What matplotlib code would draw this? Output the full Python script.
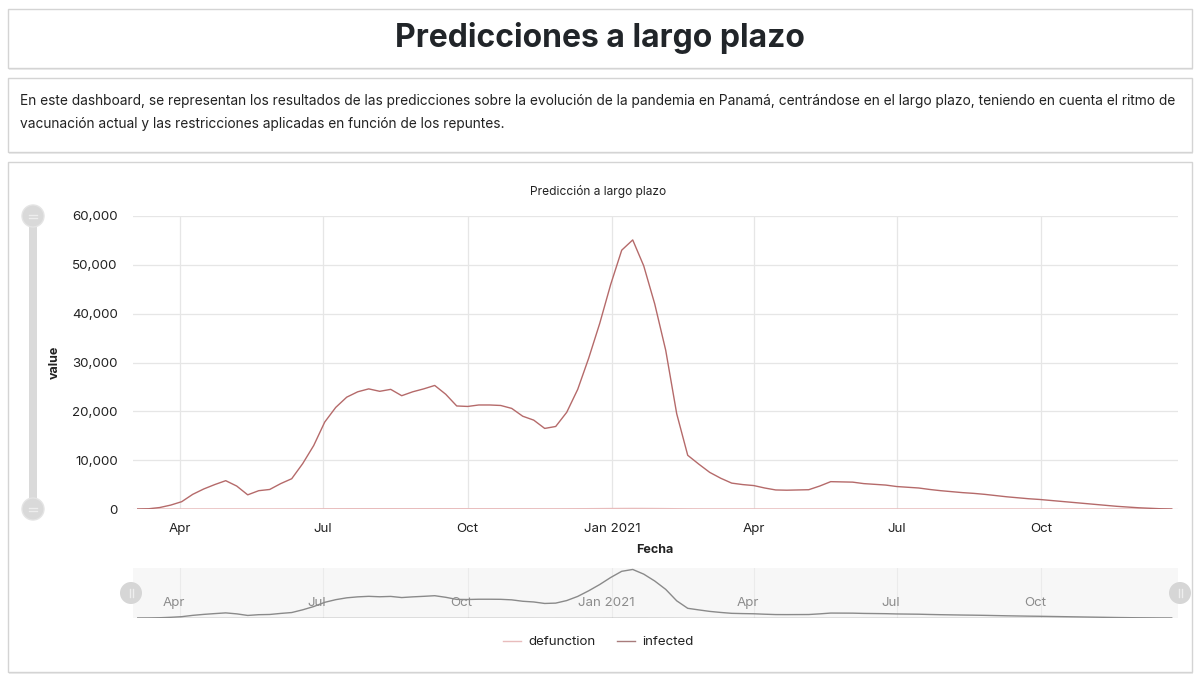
import matplotlib
matplotlib.use("Agg")
import matplotlib.pyplot as plt
from matplotlib.patches import Rectangle, Circle
from matplotlib.ticker import FuncFormatter
import pandas as pd

plt.rcParams['font.family'] = ['Inter', 'DejaVu Sans']

# ---------------- data ----------------
start_date = "2020-03-05"
n_weeks = 95
dates = pd.date_range(start_date, periods=n_weeks, freq="7D")

infected = [
    0, 50, 300, 800, 1500, 3000, 4100, 5000, 5800, 4700,
    2900, 3750, 4000, 5200, 6200, 9300, 13000, 17800, 20800, 22900,
    24000, 24600, 24100, 24500, 23200, 24000, 24600, 25300, 23500, 21100,
    21000, 21300, 21300, 21200, 20600, 19000, 18200, 16500, 16900, 19800,
    24500, 30900, 38000, 46000, 53000, 55100, 49800, 42000, 32500, 19500,
    11000, 9200, 7500, 6300, 5300, 5000, 4800, 4300, 3900, 3850,
    3900, 3950, 4700, 5600, 5550, 5500, 5200, 5050, 4900, 4600,
    4450, 4300, 4000, 3750, 3550, 3350, 3200, 3000, 2750, 2500,
    2300, 2100, 1950, 1750, 1550, 1350, 1150, 950, 750, 550,
    400, 250, 150, 50, 0,
]

defunction = [
    0, 0, 1, 3, 6, 10, 14, 16, 18, 17,
    14, 12, 12, 14, 18, 24, 32, 42, 50, 55,
    58, 60, 60, 59, 58, 58, 59, 60, 57, 53,
    50, 50, 50, 49, 48, 45, 42, 40, 40, 44,
    52, 64, 80, 96, 110, 116, 110, 96, 78, 52,
    32, 25, 20, 17, 15, 14, 13, 12, 11, 11,
    11, 11, 12, 14, 14, 14, 13, 13, 12, 12,
    11, 11, 10, 10, 9, 9, 8, 8, 7, 7,
    6, 6, 5, 5, 4, 4, 3, 3, 2, 2,
    1, 1, 1, 0, 0,
]

tick_dates = ["2020-04-01", "2020-07-01", "2020-10-01", "2021-01-01",
              "2021-04-01", "2021-07-01", "2021-10-01"]
tick_labels = ["Apr", "Jul", "Oct", "Jan 2021", "Apr", "Jul", "Oct"]
y_ticks = [0, 10000, 20000, 30000, 40000, 50000, 60000]

page_title = "Predicciones a largo plazo"
description = ("En este dashboard, se representan los resultados de las predicciones sobre la evolución de la pandemia en Panamá, "
               "centrándose en el largo plazo, teniendo en cuenta el ritmo de\nvacunación actual y las restricciones aplicadas en función de los repuntes.")
chart_title = "Predicción a largo plazo"

c_inf = "#b56a6a"
c_def = "#e8bcbc"
c_nav = "#8a8a8a"
grid_c = "#e6e6e6"
text_c = "#222222"

W, H = 1200, 681
fig = plt.figure(figsize=(W / 100, H / 100), dpi=100)
fig.patch.set_facecolor("white")

# background / layout axes in pixel coordinates
bg = fig.add_axes([0, 0, 1, 1], zorder=0)
bg.set_xlim(0, W)
bg.set_ylim(H, 0)
bg.axis("off")

# foreground overlay for slider handles
fg = fig.add_axes([0, 0, 1, 1], zorder=10)
fg.set_xlim(0, W)
fg.set_ylim(H, 0)
fg.axis("off")
fg.patch.set_alpha(0)

def panel(y0, y1):
    bg.add_patch(Rectangle((9, y0 + 2), 1184, y1 - y0, facecolor="#ececec", edgecolor="none", zorder=0))
    bg.add_patch(Rectangle((8, y0), 1184, y1 - y0, facecolor="white", edgecolor="#d4d4d4", lw=1.0, zorder=1))

panel(9, 68)
panel(78, 152)
panel(162, 672)

bg.text(600, 38, page_title, ha="center", va="center", fontsize=23, fontweight="bold", color="#212529", zorder=3)
bg.text(20, 112.5, description, ha="left", va="center", fontsize=9.9, color=text_c, linespacing=1.8, zorder=3)
bg.text(598, 191, chart_title, ha="center", va="center", fontsize=8.6, color=text_c, zorder=3)
bg.text(55, 362, "value", ha="center", va="center", rotation=90, fontsize=9, fontweight="bold", color=text_c, zorder=3)
bg.text(655, 550, "Fecha", ha="center", va="center", fontsize=9, fontweight="bold", color=text_c, zorder=3)

# vertical slider
bg.add_patch(Rectangle((29, 216), 8, 293, facecolor="#dadada", edgecolor="none", zorder=2))
for yy in (216, 509):
    bg.add_patch(Circle((33, yy), 11, facecolor="#d9d9d9", edgecolor="#e4e4e4", zorder=3))
    bg.plot([29, 37], [yy - 1.5, yy - 1.5], color="#ededed", lw=1, zorder=4)
    bg.plot([29, 37], [yy + 1.5, yy + 1.5], color="#ededed", lw=1, zorder=4)

# navigator handles
for xx in (131, 1180):
    fg.add_patch(Circle((xx, 593), 11, facecolor="#d6d6d6", edgecolor="none", zorder=5))
    fg.plot([xx - 1.5, xx - 1.5], [589, 597], color="#eeeeee", lw=1, zorder=6)
    fg.plot([xx + 1.5, xx + 1.5], [589, 597], color="#eeeeee", lw=1, zorder=6)

# ---------------- main axes ----------------
x0, x1, ytop, ybot = 133, 1178, 216, 509
ax = fig.add_axes([x0 / W, 1 - ybot / H, (x1 - x0) / W, (ybot - ytop) / H], zorder=2)
ax.patch.set_alpha(0)
xmin = dates[0] - pd.Timedelta(days=3)
xmax = dates[-1] + pd.Timedelta(days=4)
ax.set_xlim(xmin, xmax)
ax.set_ylim(0, 60000)
l_def, = ax.plot(dates, defunction, color=c_def, lw=1.0, label="defunction", zorder=3)
l_inf, = ax.plot(dates, infected, color=c_inf, lw=1.0, label="infected", zorder=4)
ax.set_yticks(y_ticks)
ax.yaxis.set_major_formatter(FuncFormatter(lambda v, p: f"{int(v):,}"))
ax.set_xticks(pd.to_datetime(tick_dates))
ax.set_xticklabels(tick_labels)
ax.grid(True, color=grid_c, lw=0.9)
ax.set_axisbelow(True)
for s in ax.spines.values():
    s.set_visible(False)
ax.tick_params(axis="both", length=0, labelsize=9.6, colors=text_c)
ax.tick_params(axis="y", pad=11)
ax.tick_params(axis="x", pad=10)

# ---------------- navigator ----------------
ntop, nbot = 568, 618
nav = fig.add_axes([x0 / W, 1 - nbot / H, (x1 - x0) / W, (nbot - ntop) / H], zorder=2)
nav.set_facecolor("#f7f7f7")
nav.set_xlim(xmin, xmax)
nav.set_ylim(0, max(infected) * 1.03)
nav.plot(dates, infected, color=c_nav, lw=1.0, zorder=3)
nav.plot(dates, defunction, color=c_nav, lw=0.6, alpha=0.5, zorder=2)
for d, lab in zip(pd.to_datetime(tick_dates), tick_labels):
    nav.axvline(d, color="#ebebeb", lw=0.8, zorder=1)
    nav.text(d - pd.Timedelta(days=4), 0.3, lab, transform=nav.get_xaxis_transform(), ha="center", va="center",
             fontsize=9.6, color="#8c8c8c", zorder=4)
nav.set_xticks([])
nav.set_yticks([])
for s in nav.spines.values():
    s.set_visible(False)

# ---------------- legend ----------------
leg = fig.legend(handles=[l_def, l_inf], labels=["defunction", "infected"],
                 loc="center", bbox_to_anchor=(598 / W, 1 - 642 / H), ncol=2, frameon=False,
                 fontsize=9.6, handlelength=1.4, handletextpad=0.5, columnspacing=1.6)
for t in leg.get_texts():
    t.set_color(text_c)
leg.legend_handles[1].set_color("#a87c7c")

fig.savefig("out.png", dpi=100, facecolor="white")
